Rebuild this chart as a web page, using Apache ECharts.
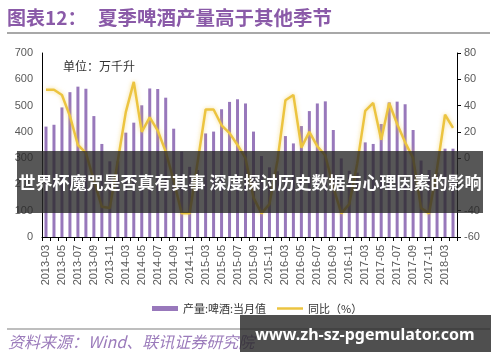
<!DOCTYPE html>
<html><head><meta charset="utf-8">
<script src="https://cdn.jsdelivr.net/npm/echarts@6/dist/echarts.min.js"></script>
<style>html,body{margin:0;padding:0;background:#fff}#c{width:500px;height:362px}</style>
</head><body><div id="c"></div>
<script>
const categories = [
  '2013-03','2013-04','2013-05','2013-06','2013-07','2013-08','2013-09','2013-10','2013-11','2013-12',
  '2014-03','2014-04','2014-05','2014-06','2014-07','2014-08','2014-09','2014-10','2014-11','2014-12',
  '2015-03','2015-04','2015-05','2015-06','2015-07','2015-08','2015-09','2015-10','2015-11','2015-12',
  '2016-03','2016-04','2016-05','2016-06','2016-07','2016-08','2016-09','2016-10','2016-11','2016-12',
  '2017-03','2017-04','2017-05','2017-06','2017-07','2017-08','2017-09','2017-10','2017-11','2017-12',
  '2018-03','2018-04'
];
const production = [
  420,427,493,551,572,564,460,354,288,288,
  397,435,501,565,563,530,412,325,267,255,
  394,401,486,514,524,508,401,308,265,250,
  384,356,422,479,508,516,407,299,252,245,
  360,354,430,512,515,505,407,291,255,245,
  336,336
];
const yoy = [
  52,52,48,32,10,4,-17,-37,-38,-2,
  35,58,20,31,21,5,-17,-42,-42,-3,
  37,37,25,19,10,0,-30,-42,-35,-2,
  44,48,8,20,9,2,-22,-42,-35,-4,
  36,42,14,42,26,12,0,-38,-42,-8,
  33,23
];
const leftAxisRange = [0, 700, 100];
const rightAxisRange = [-60, 80, 20];
const seriesNames = ['产量:啤酒:当月值', '同比（%）'];

const chart = echarts.init(document.getElementById('c'), null, {renderer: 'canvas'});
const labelFont = 'Liberation Sans';
const cjk = '"Noto Sans CJK SC"';
const legendText = {fontSize: 11, color: '#333', fontFamily: cjk};
chart.setOption({
  animation: false,
  backgroundColor: '#fff',
  grid: {left: 42, right: 43, top: 53, bottom: 125, containLabel: false},
  legend: [
    {left: 147, top: 298, itemWidth: 26, itemHeight: 5, textStyle: legendText,
     data: [{name: seriesNames[0], icon: 'rect'}]},
    {left: 272, top: 298, itemWidth: 26, itemHeight: 2.5, textStyle: legendText,
     data: [{name: seriesNames[1], icon: 'rect'}]}
  ],
  xAxis: {
    type: 'category', data: categories, boundaryGap: true,
    axisLine: {onZero: false, lineStyle: {color: '#000', width: 1}},
    axisTick: {show: true, interval: 0, length: 4, lineStyle: {color: '#000'}},
    axisLabel: {interval: 1, rotate: 90, margin: 8, fontSize: 11, color: '#595959', fontFamily: labelFont}
  },
  yAxis: [
    {type: 'value', min: leftAxisRange[0], max: leftAxisRange[1], interval: leftAxisRange[2],
     axisLine: {show: true, lineStyle: {color: '#000'}}, axisTick: {show: false},
     splitLine: {show: false},
     axisLabel: {margin: 9, fontSize: 11, color: '#595959', fontFamily: labelFont}},
    {type: 'value', min: rightAxisRange[0], max: rightAxisRange[1], interval: rightAxisRange[2],
     position: 'right',
     axisLine: {show: true, lineStyle: {color: '#000'}},
     axisTick: {show: true, inside: false, length: 4, lineStyle: {color: '#000'}},
     splitLine: {show: false},
     axisLabel: {margin: 7, fontSize: 11, color: '#595959', fontFamily: labelFont}}
  ],
  series: [
    {name: seriesNames[0], type: 'bar', data: production, yAxisIndex: 0,
     barWidth: 3, itemStyle: {color: '#9878bb'}},
    {name: seriesNames[1], type: 'line', data: yoy, yAxisIndex: 1,
     symbol: 'none', smooth: false,
     lineStyle: {color: '#ecc440', width: 2.5, shadowColor: 'rgba(240,200,70,0.6)', shadowBlur: 4},
     itemStyle: {color: '#ecc440'}}
  ],
  graphic: [
    {type: 'text', x: 7, y: 18, z: 100, style: {text: '图表12：', font: 'bold 19px ' + cjk, fill: '#8a5aa8', verticalAlign: 'middle'}},
    {type: 'text', x: 98, y: 18, z: 100, style: {text: '夏季啤酒产量高于其他季节', font: 'bold 19.5px ' + cjk, fill: '#8a5aa8', verticalAlign: 'middle'}},
    {type: 'line', z: 100, shape: {x1: 7, y1: 33, x2: 490, y2: 33}, style: {stroke: '#a8a8a8', lineWidth: 2}},
    {type: 'text', x: 63, y: 66, z: 100, style: {text: '单位：万千升', font: '12px ' + cjk, fill: '#333', verticalAlign: 'middle'}},
    {type: 'line', z: 100, shape: {x1: 7, y1: 329, x2: 490, y2: 329}, style: {stroke: '#a8a8a8', lineWidth: 1.5}},
    {type: 'text', x: 8, y: 342, z: 100, style: {text: '资料来源：Wind、联讯证券研究院', font: 'italic 16px ' + cjk, fill: '#9b7bbb', verticalAlign: 'middle'}},
    {type: 'rect', z: 200, shape: {x: 17, y: 151, width: 466, height: 62}, style: {fill: 'rgba(40,40,40,0.78)'}},
    {type: 'text', x: 250, y: 183, z: 201, style: {text: '世界杯魔咒是否真有其事 深度探讨历史数据与心理因素的影响', font: 'bold 17px ' + cjk, fill: '#fff', align: 'center', verticalAlign: 'middle'}},
    {type: 'rect', z: 200, shape: {x: 240, y: 315, width: 251, height: 37}, style: {fill: 'rgba(40,40,40,0.82)'}},
    {type: 'text', x: 365, y: 335, z: 201, style: {text: 'www.zh-sz-pgemulator.com', font: 'bold 16px "Noto Sans"', fill: '#fff', align: 'center', verticalAlign: 'middle'}}
  ]
});
</script>
</body></html>
